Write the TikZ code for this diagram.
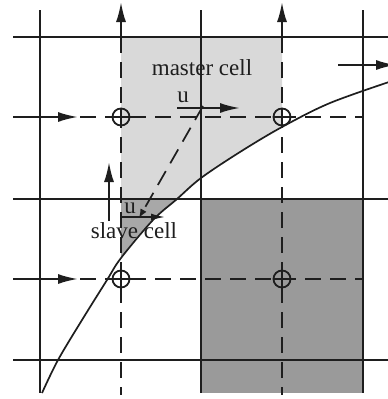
\documentclass[tikz,border=0pt]{standalone}
\usepackage{fontspec}
\setmainfont{Liberation Serif}
\usetikzlibrary{arrows.meta}
\definecolor{lightcell}{HTML}{D9D9D9}
\definecolor{slavecol}{HTML}{A8A8A8}
\definecolor{darkcell}{HTML}{9A9A9A}
\definecolor{ink}{HTML}{1E1E1E}
\tikzset{
  gridline/.style={draw=ink, line width=2pt},
  dashline/.style={draw=ink, line width=2pt, dash pattern=on 16pt off 9pt},
  arr/.style={draw=ink, line width=2pt, -{Latex[length=20pt,width=10pt]}},
  smallarr/.style={draw=ink, line width=1.6pt, -{Latex[length=14pt,width=7pt]}},
  lbl/.style={font=\fontsize{23}{26}\selectfont, text=ink, inner sep=0pt, anchor=base},
  marker/.style={circle, draw=ink, line width=1.8pt, minimum size=17pt, inner sep=0pt},
}
\begin{document}
\begin{tikzpicture}[x=1pt,y=-1pt]
\useasboundingbox (0,0) rectangle (388,399);
\clip (0,0) rectangle (388,399);
% curve points
\def\curvepath{(42,393) (58,360) (82,320) (107,280) (121,258) (153,220) (177,199) (201,178) (240,152) (282,127) (330,103) (392,81)}
% fills
\fill[lightcell] (121,37) -- (282,37) -- (282,127)
  .. controls (255,142) and (220,164) .. (201,178)
  .. controls (193,185) and (185,192) .. (177,199) -- (121,199) -- cycle;
\fill[slavecol] (121,199) -- (177,199)
  .. controls (165,209) and (158,214) .. (153,220)
  .. controls (140,233) and (130,244) .. (121,258) -- cycle;
\fill[darkcell] (201,199) rectangle (363,393);
% grid
\foreach \x in {40,201,363} \draw[gridline] (\x,10) -- (\x,393);
\foreach \y in {37,199,360} \draw[gridline] (13,\y) -- (388,\y);
% dashed lines
\draw[dashline] (121,37) -- (121,395);
\draw[dashline] (282,37) -- (282,395);
\draw[dashline] (80,117) -- (363,117);
\draw[dashline] (80,279) -- (363,279);
% markers
\foreach \p/\n in {{121,117}/ma, {282,117}/mb, {121,279}/mc, {282,279}/md}{
  \node[marker, fill=none] (\n) at (\p) {};
  \draw[ink, line width=1.4pt] (\n.west) -- (\n.east) (\n.north) -- (\n.south);
}
% curve
\draw[ink, line width=1.7pt] plot[smooth, tension=0.55] coordinates {\curvepath};
% arrows
\coordinate (ta1) at (121,40); \coordinate (th1) at (121,2);
\coordinate (ta2) at (282,40); \coordinate (th2) at (282,2);
\draw[arr] (ta1) -- (th1);
\draw[arr] (ta2) -- (th2);
\coordinate (la1) at (13,117); \coordinate (lh1) at (78,117);
\coordinate (la2) at (13,279); \coordinate (lh2) at (78,279);
\draw[arr] (la1) -- (lh1);
\draw[arr] (la2) -- (lh2);
\coordinate (ra) at (338,65); \coordinate (rh) at (396,65);
\draw[arr] (ra) -- (rh);
\coordinate (va) at (109,221); \coordinate (vh) at (109,162);
\draw[arr] (va) -- (vh);
% u arrows
\coordinate (ua) at (177,108); \coordinate (uh) at (240,108);
\draw[arr] (ua) -- (uh);
\coordinate (sa) at (121,217); \coordinate (sh) at (165,217);
\draw[smallarr] (sa) -- (sh);
\coordinate (da) at (203,106); \coordinate (dh) at (139,218);
\draw[draw=ink, line width=1.7pt, dash pattern=on 16pt off 9pt, -{Latex[length=9pt,width=7pt]}] (da) -- (dh);
% labels
\node[lbl] (master) at (202,75) {master cell};
\node[lbl] (uup) at (183,102) {u};
\node[lbl] (ulow) at (130,213) {u};
\node[lbl] (slave) at (134,238) {slave cell};
\end{tikzpicture}
\end{document}
